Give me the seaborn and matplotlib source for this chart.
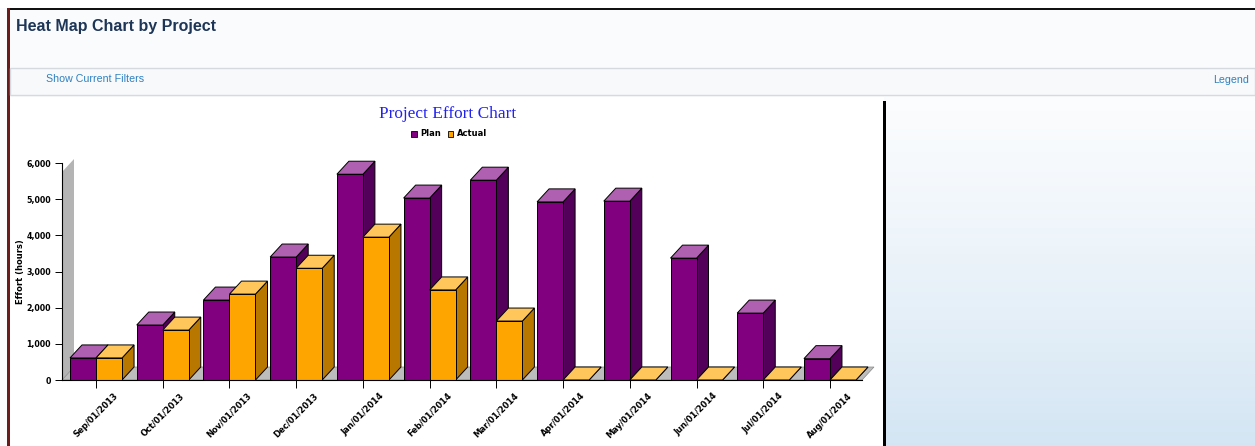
import seaborn as sns
import matplotlib.pyplot as plt
import matplotlib.colors as mcolors
import pandas as pd
import numpy as np
from matplotlib.patches import Rectangle, Polygon, Patch

# ---------------------------
# Data
# ---------------------------
months = ["Sep/01/2013", "Oct/01/2013", "Nov/01/2013", "Dec/01/2013",
          "Jan/01/2014", "Feb/01/2014", "Mar/01/2014", "Apr/01/2014",
          "May/01/2014", "Jun/01/2014", "Jul/01/2014", "Aug/01/2014"]
plan = [610, 1520, 2210, 3400, 5690, 5030, 5525, 4925, 4945, 3370, 1850, 590]
actual = [610, 1380, 2375, 3090, 3950, 2490, 1630, 0, 0, 0, 0, 0]
series = ["Plan", "Actual"]
y_ticks = [0, 1000, 2000, 3000, 4000, 5000, 6000]

df = pd.DataFrame({
    "Month": months * 2,
    "Series": ["Plan"] * len(months) + ["Actual"] * len(months),
    "Effort": plan + actual,
})

# colours: front, top, side
colors = {
    "Plan": ("#800080", "#b060b0", "#52005a"),
    "Actual": ("#ffa500", "#ffc65c", "#b87800"),
}

# ---------------------------
# Page layout
# ---------------------------
W, H = 1255, 446
fig = plt.figure(figsize=(W / 100, H / 100), dpi=100)
fig.patch.set_facecolor("#fafbfc")


def fx(x):
    return x / W


def fy(y):
    return 1 - y / H


def frect(x0, y0, x1, y1, **kw):
    fig.add_artist(Rectangle((fx(x0), fy(y1)), fx(x1) - fx(x0), fy(y0) - fy(y1),
                             transform=fig.transFigure, zorder=-1, **kw))


# header and filter bar
frect(0, 0, W, 8, facecolor="white", edgecolor="none")
frect(8, 8, W, 9.5, facecolor="#111111", edgecolor="none")
frect(7, 8, 9.5, H, facecolor="#6b1a1a", edgecolor="none")
frect(10, 68, W, 95, facecolor="#f8f9fb", edgecolor="#d5dae0", linewidth=1)
fig.text(fx(16), fy(26), "Heat Map Chart by Project", fontsize=11.5,
         fontweight="bold", color="#1d3557", va="center", ha="left",
         family="Liberation Sans")
fig.text(fx(46), fy(79), "Show Current Filters", fontsize=7.7, color="#2f80c0",
         va="center", ha="left", family="Liberation Sans")
fig.text(fx(1249), fy(80), "Legend", fontsize=7.7, color="#2f80c0",
         va="center", ha="right", family="Liberation Sans")

# chart panel
frect(10, 97, 884, H, facecolor="white", edgecolor="none")
frect(882.5, 101, 886, H, facecolor="black", edgecolor="none")

# gradient panel on the right
gax = fig.add_axes([fx(886), 0, 1 - fx(886), fy(97)])
grad = np.linspace(0, 1, 256).reshape(-1, 1)
top_c = np.array([0.985, 0.99, 0.995])
bot_c = np.array([0.83, 0.9, 0.955])
img = top_c + (bot_c - top_c) * grad[:, :, None] ** 1.2
gax.imshow(img, aspect="auto", extent=[0, 1, 0, 1], origin="upper")
gax.axis("off")

# ---------------------------
# Bar chart
# ---------------------------
ax = fig.add_axes([fx(62), fy(380), fx(862) - fx(62), fy(163) - fy(380)])
ax.set_facecolor("none")
sns.barplot(data=df, x="Month", y="Effort", hue="Series", hue_order=series,
            palette={s: colors[s][0] for s in series}, width=0.78, saturation=1,
            edgecolor="black", linewidth=0.7, legend=False, ax=ax)
bars = sorted([p for p in ax.patches if isinstance(p, Rectangle)],
              key=lambda p: p.get_x())

x0, x1 = -0.51, 11.48
ax.set_xlim(x0, x1)
ax.set_ylim(0, 6000)
dx = 12 * (x1 - x0) / 800
dy = 13 * 6000 / 217

# back wall and floor
ax.add_patch(Polygon([(x0, 0), (x0, 5750), (x0 + dx, 5750 + dy), (x0 + dx, dy)],
                     closed=True, facecolor="#b4b4b4", edgecolor="none",
                     zorder=0.5, clip_on=False))
ax.add_patch(Polygon([(x0, 0), (x1, 0), (x1 + dx, dy), (x0 + dx, dy)],
                     closed=True, facecolor="#bdbdbd", edgecolor="#888888",
                     linewidth=0.5, zorder=0.5, clip_on=False))

# 3D faces built from seaborn's bars
plan_rgb = mcolors.to_rgb(colors["Plan"][0])
for i, bar in enumerate(bars):
    bx, bw, bh = bar.get_x(), bar.get_width(), bar.get_height()
    name = "Plan" if np.allclose(bar.get_facecolor()[:3], plan_rgb, atol=0.05) else "Actual"
    _, top_col, side_col = colors[name]
    z = 2 + i * 0.1
    side = Polygon([(bx + bw, 0), (bx + bw + dx, dy), (bx + bw + dx, bh + dy), (bx + bw, bh)],
                   closed=True, facecolor=side_col, edgecolor="black", linewidth=0.7,
                   zorder=z, clip_on=False)
    top = Polygon([(bx, bh), (bx + dx, bh + dy), (bx + bw + dx, bh + dy), (bx + bw, bh)],
                  closed=True, facecolor=top_col, edgecolor="black", linewidth=0.7,
                  zorder=z + 0.01, clip_on=False)
    ax.add_patch(side)
    ax.add_patch(top)
    bar.set_zorder(z + 0.02)
    bar.set_clip_on(False)

# axes styling
for s in ["top", "right"]:
    ax.spines[s].set_visible(False)
ax.spines["left"].set_linewidth(0.8)
ax.spines["bottom"].set_linewidth(0.8)
ax.spines["left"].set_zorder(5)
ax.spines["bottom"].set_zorder(5)
ax.set_yticks(y_ticks)
ax.set_yticklabels([f"{v:,}" for v in y_ticks], fontsize=5.7, fontweight="bold",
                   family="DejaVu Sans")
ax.tick_params(axis="y", length=5, width=0.7, pad=3)
ax.tick_params(axis="x", length=6, width=0.7, pad=2)
ax.set_xticks(range(len(months)))
ax.set_xticklabels(months, rotation=45, ha="center", fontsize=6,
                   fontweight="bold", family="DejaVu Sans")
ax.set_xlabel("")
ax.set_ylabel("Effort (hours)", fontsize=6, fontweight="bold")
ax.yaxis.set_label_coords((25 - 62) / 800, 0.5)
ax.grid(False)

# chart title and legend
fig.text(fx(448), fy(114), "Project Effort Chart", fontsize=12.4,
         color="#2222ee", ha="center", va="center", family="Liberation Serif")
handles = [Patch(facecolor=colors[s][0], edgecolor="black", linewidth=0.6) for s in series]
leg = fig.legend(handles, series, loc="center", bbox_to_anchor=(fx(449), fy(134)),
                 ncol=2, frameon=False, handlelength=0.7, handleheight=0.7,
                 handletextpad=0.4, columnspacing=0.8,
                 prop={"size": 6, "weight": "bold"})

plt.savefig("out.png", dpi=100)
